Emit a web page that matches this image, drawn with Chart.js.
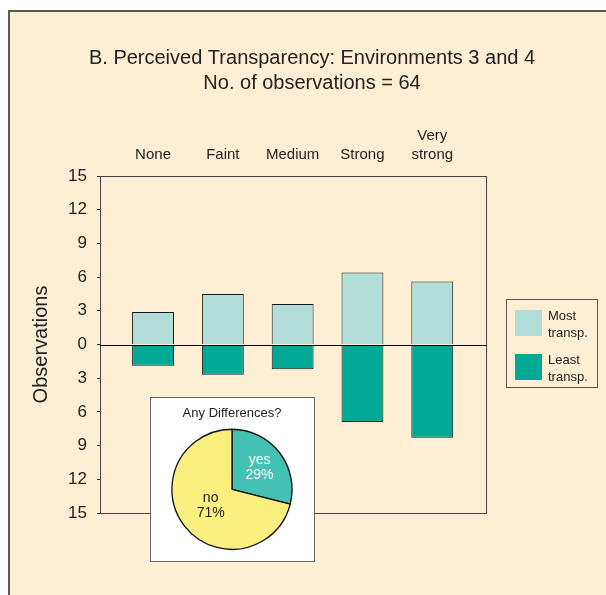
<!DOCTYPE html>
<html>
<head>
<meta charset="utf-8">
<script src="https://cdn.jsdelivr.net/npm/chart.js@4.4.1/dist/chart.umd.min.js"></script>
<style>
  body { margin: 0; background: #fff; }
  #wrap { position: relative; width: 606px; height: 595px; }
  #pieBox { position: absolute; left: 150px; top: 397px; width: 165px; height: 165px;
            box-sizing: border-box; border: 1px solid #666; background: #fff; }
  #pieBox canvas { display: block; }
</style>
</head>
<body>
<div id="wrap">
  <canvas id="bars" width="606" height="595"></canvas>
  <div id="pieBox"><canvas id="pie" width="163" height="163"></canvas></div>
</div>
<script>
// values
const categories = ['None', 'Faint', 'Medium', 'Strong', ['Very', 'strong']];
const mostTransp = [2.9, 4.5, 3.6, 6.4, 5.6];
const leastTransp = [1.9, 2.7, 2.2, 6.9, 8.3];
const yTickValues = [-15, -12, -9, -6, -3, 0, 3, 6, 9, 12, 15];
const seriesNames = ['Most transp.', 'Least transp.'];

const pieLabels = ['yes', 'no'];
const pieValues = [29, 71];

Chart.defaults.font.family = '"Liberation Sans", Arial, Helvetica, sans-serif';
Chart.defaults.color = '#222';

const lightTeal = '#b2ddd8';
const darkTeal = '#00a896';

// cream panel, plot frame, zero line and the legend box
const panel = {
  id: 'panel',
  beforeDraw(chart) {
    const c = chart.ctx;
    c.save();
    c.fillStyle = '#fff';
    c.fillRect(0, 0, chart.width, chart.height);
    c.fillStyle = '#feeed3';
    c.fillRect(9, 11, chart.width - 9, chart.height - 11);
    c.strokeStyle = '#5a5a5a';
    c.lineWidth = 2;
    c.beginPath();
    c.moveTo(9, chart.height);
    c.lineTo(9, 11);
    c.lineTo(chart.width, 11);
    c.stroke();
    c.restore();
  },
  afterDatasetsDraw(chart) {
    const c = chart.ctx;
    const a = chart.chartArea;
    c.save();
    c.strokeStyle = '#444';
    c.lineWidth = 1;
    c.strokeRect(Math.round(a.left) + 0.5, Math.round(a.top) + 0.5,
                 Math.round(a.right - a.left), Math.round(a.bottom - a.top));
    const y0 = Math.round(chart.scales.y.getPixelForValue(0)) + 0.5;
    c.strokeStyle = '#000';
    c.beginPath();
    c.moveTo(a.left, y0);
    c.lineTo(a.right, y0);
    c.stroke();
    c.restore();
  },
  afterDraw(chart) {
    const c = chart.ctx;
    c.save();
    c.fillStyle = '#feeed3';
    c.fillRect(506, 299, 91, 88);
    c.strokeStyle = '#555';
    c.lineWidth = 1;
    c.strokeRect(506.5, 299.5, 91, 88);
    c.font = '13px "Liberation Sans", Arial, sans-serif';
    c.textBaseline = 'middle';
    chart.data.datasets.forEach((ds, i) => {
      const top = 310 + i * 44;
      c.fillStyle = ds.backgroundColor;
      c.fillRect(515, top, 27, 26);
      c.fillStyle = '#222';
      ds.label.split(' ').forEach((w, j) => c.fillText(w, 548, top + 6 + j * 17));
    });
    c.restore();
  }
};

new Chart(document.getElementById('bars'), {
  type: 'bar',
  data: {
    datasets: [
      {
        label: seriesNames[0],
        data: mostTransp.map((v, i) => ({ x: i, y: v })),
        backgroundColor: lightTeal,
        borderColor: '#1a1a1a',
        borderWidth: 1,
        barPercentage: 0.6,
        categoryPercentage: 1
      },
      {
        label: seriesNames[1],
        data: leastTransp.map((v, i) => ({ x: i, y: -v })),
        backgroundColor: darkTeal,
        borderColor: '#1a1a1a',
        borderWidth: 1,
        barPercentage: 0.6,
        categoryPercentage: 1
      }
    ]
  },
  options: {
    responsive: false,
    animation: false,
    layout: { padding: { left: 18, right: 0, top: 0, bottom: 82 } },
    plugins: {
      legend: { display: false },
      tooltip: { enabled: false },
      title: {
        display: true,
        text: ['B. Perceived Transparency: Environments 3 and 4', 'No. of observations = 64'],
        font: { size: 20, weight: 'normal', lineHeight: 1.25 },
        color: '#222',
        padding: { top: 46, bottom: 0 }
      }
    },
    scales: {
      x: {
        type: 'linear',
        position: 'top',
        offset: false,
        min: -0.76,
        max: 4.77,
        stacked: true,
        grid: { display: false, drawTicks: false },
        border: { display: false },
        afterBuildTicks: axis => { axis.ticks = categories.map((c, i) => ({ value: i })); },
        ticks: {
          autoSkip: false,
          maxRotation: 0,
          padding: 12,
          font: { size: 15, lineHeight: 1.25 },
          color: '#222',
          callback: v => categories[v]
        },
        afterFit: s => { s.height = 80; }
      },
      y: {
        min: -15,
        max: 15,
        stacked: true,
        afterBuildTicks: axis => { axis.ticks = yTickValues.map(v => ({ value: v })); },
        ticks: { padding: 10, font: { size: 17 }, color: '#222', callback: v => Math.abs(v) },
        grid: { drawOnChartArea: false, tickLength: 3, tickColor: '#333' },
        border: { color: '#444' },
        title: {
          display: true,
          text: 'Observations',
          font: { size: 20 },
          color: '#222',
          padding: { top: 11, bottom: 0 }
        },
        afterFit: s => { s.width = 82; }
      },
      side: {
        position: 'right',
        display: true,
        grid: { display: false },
        border: { display: false },
        ticks: { display: false },
        afterFit: s => { s.width = 120; }
      }
    }
  },
  plugins: [panel]
});

// labels inside the pie slices
const sliceLabels = {
  id: 'sliceLabels',
  afterDatasetsDraw(chart) {
    const c = chart.ctx;
    const meta = chart.getDatasetMeta(0);
    const reach = [0.58, 0.45];
    c.save();
    c.font = '14px "Liberation Sans", Arial, sans-serif';
    c.textAlign = 'center';
    c.textBaseline = 'middle';
    meta.data.forEach((arc, i) => {
      const p = arc.getProps(['x', 'y', 'startAngle', 'endAngle', 'outerRadius'], true);
      const mid = (p.startAngle + p.endAngle) / 2;
      const x = p.x + Math.cos(mid) * p.outerRadius * reach[i];
      const y = p.y + Math.sin(mid) * p.outerRadius * reach[i];
      c.fillStyle = i === 0 ? '#fff' : '#222';
      c.fillText(chart.data.labels[i], x, y - 7.5);
      c.fillText(chart.data.datasets[0].data[i] + '%', x, y + 7.5);
    });
    c.restore();
  }
};

new Chart(document.getElementById('pie'), {
  type: 'pie',
  data: {
    labels: pieLabels,
    datasets: [{
      data: pieValues,
      backgroundColor: ['#45c0b5', '#fbef7f'],
      borderColor: '#111',
      borderWidth: 1.3
    }]
  },
  options: {
    responsive: false,
    animation: false,
    layout: { padding: { left: 20, right: 21, top: 0, bottom: 11 } },
    plugins: {
      legend: { display: false },
      tooltip: { enabled: false },
      title: {
        display: true,
        text: 'Any Differences?',
        font: { size: 13, weight: 'normal' },
        color: '#222',
        padding: { top: 8, bottom: 7 }
      }
    }
  },
  plugins: [sliceLabels]
});
</script>
</body>
</html>
